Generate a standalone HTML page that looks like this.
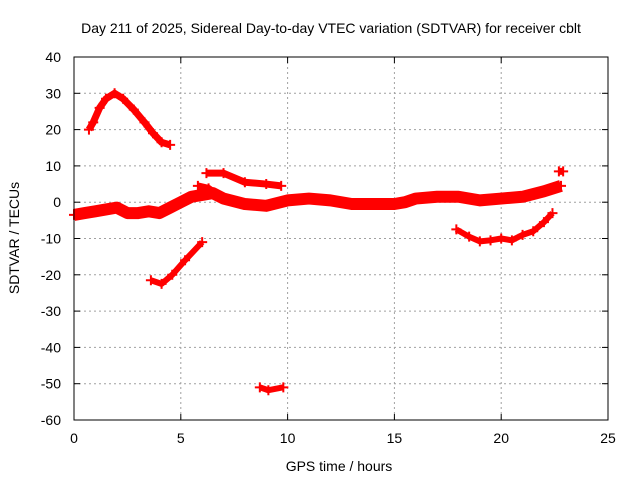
<!DOCTYPE html>
<html><head><meta charset="utf-8"><style>
body{margin:0;background:#fff}
svg text{font-family:"Liberation Sans",sans-serif;font-size:14px;fill:#000}
</style></head><body>
<svg id="c" width="640" height="480">
<text x="331" y="33" text-anchor="middle">Day 211 of 2025, Sidereal Day-to-day VTEC variation (SDTVAR) for receiver cblt</text>
<text x="339" y="471" text-anchor="middle">GPS time / hours</text>
<text transform="translate(19,238) rotate(-90)" text-anchor="middle">SDTVAR / TECUs</text>
<g id="grid"></g><g id="marks"></g>
<rect x="74" y="57" width="534" height="363" fill="none" stroke="#000" stroke-width="1"/>
</svg>
<script>
const xTicks=[0,5,10,15,20,25];
const yTicks=[40,30,20,10,0,-10,-20,-30,-40,-50,-60];
const segHump=[[0.7,20],[0.9,22],[1.2,26],[1.5,28.5],[1.9,30],[2.3,28.5],[2.8,25.5],[3.3,22],[3.7,19],[4.1,16.5],[4.5,15.8]];
const segMain=[[0,-3.5],[0.5,-3],[1,-2.5],[1.5,-2],[2,-1.5],[2.5,-3],[3,-3],[3.5,-2.5],[4,-3],[4.5,-1.5],[5,0],[5.5,1.5],[6,2],[6.5,2.5],[7,1],[8,-0.5],[9,-1],[10,0.5],[11,1],[12,0.5],[13,-0.5],[14,-0.5],[15,-0.5],[15.5,0],[16,1],[17,1.5],[18,1.5],[19,0.5],[20,1],[21,1.5],[22,3],[22.8,4.5]];
const segBump=[[5.8,4.5],[6.3,3.8],[6.6,2.5]];
const segUpper=[[6.2,8],[7,8],[8,5.5],[9,5],[9.7,4.5]];
const segRise=[[3.6,-21.5],[4.1,-22.5],[4.6,-20],[5.2,-16],[6,-11]];
const segLow=[[8.7,-51],[9.1,-51.8],[9.8,-51]];
const segRight=[[17.9,-7.5],[18.5,-9.5],[19,-10.8],[19.5,-10.5],[20,-10],[20.5,-10.5],[21,-9],[21.5,-8],[22,-5.5],[22.4,-3]];
const segDot=[[22.7,8.5],[22.9,8.5]];
const X=v=>74+v*(534/25), Y=v=>57+(40-v)*(363/100);
const NS="http://www.w3.org/2000/svg", svg=document.getElementById('c');
const grid=document.getElementById('grid'), marks=document.getElementById('marks');
function mk(t,a,p){const e=document.createElementNS(NS,t);for(const k in a)e.setAttribute(k,a[k]);p.appendChild(e);return e;}
xTicks.forEach(t=>{
 if(t>0&&t<25){const l=mk('line',{x1:X(t),x2:X(t),y1:57,y2:420,stroke:'#a0a0a0','stroke-dasharray':'2,3'},grid);
 
 }
 mk('line',{x1:X(t),x2:X(t),y1:420,y2:414,stroke:'#000'},grid);
 mk('line',{x1:X(t),x2:X(t),y1:57,y2:63,stroke:'#000'},grid);
 const tx=mk('text',{x:X(t),y:443,'text-anchor':'middle'},svg);tx.textContent=t;
 
 
});
yTicks.forEach(t=>{
 if(t<40&&t>-60){const l=mk('line',{x1:74,x2:608,y1:Y(t),y2:Y(t),stroke:'#a0a0a0','stroke-dasharray':'2,3'},grid);
 
 }
 mk('line',{x1:74,x2:80,y1:Y(t),y2:Y(t),stroke:'#000'},grid);
 mk('line',{x1:602,x2:608,y1:Y(t),y2:Y(t),stroke:'#000'},grid);
 const tx=mk('text',{x:61,y:Y(t)+5,'text-anchor':'end'},svg);tx.textContent=t;
 
 
});
function draw(seg,w,name){
 const p=mk('polyline',{points:seg.map(d=>X(d[0])+','+Y(d[1])).join(' '),fill:'none',stroke:'#ff0000','stroke-width':w,'stroke-linejoin':'round'},marks);
 
 
 seg.forEach(d=>{mk('path',{d:`M${X(d[0])-5},${Y(d[1])}h10M${X(d[0])},${Y(d[1])-5}v10`,stroke:'#ff0000','stroke-width':2},marks);});
}
draw(segMain,12,'series-main-band');
draw(segHump,7,'series-hump');
draw(segBump,7,'series-bump');
draw(segUpper,7,'series-upper');
draw(segRise,6,'series-rise');
draw(segLow,6,'series-low');
draw(segRight,6,'series-right');
draw(segDot,7,'series-end-point');
</script>
</body></html>
